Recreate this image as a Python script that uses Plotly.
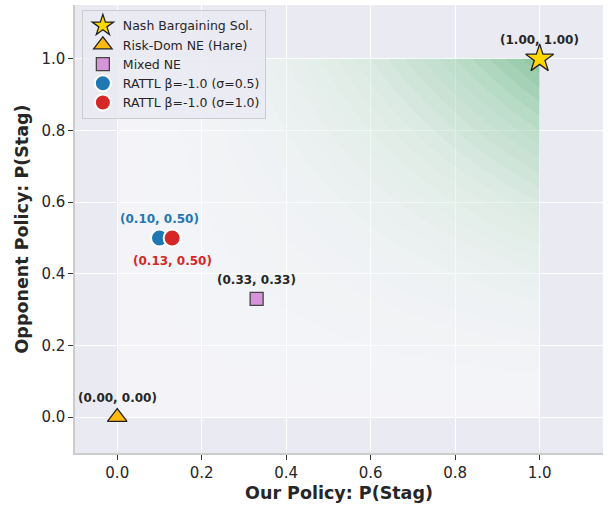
import numpy as np
import plotly.graph_objects as go

# Strategy profiles (our P(Stag), opponent P(Stag))
names = ["Nash Bargaining Sol.", "Risk-Dom NE (Hare)", "Mixed NE",
         "RATTL β=-1.0 (σ=0.5)", "RATTL β=-1.0 (σ=1.0)"]
our_p = [1.00, 0.00, 0.33, 0.10, 0.13]
opp_p = [1.00, 0.00, 0.33, 0.50, 0.50]
symbols = ["star", "triangle-up", "square", "circle", "circle"]
sizes = [21, 17, 13, 17, 17]
fills = ["#FFD700", "#FFB90F", "#D894DA", "#1F77B4", "#D62728"]
edges = ["#222222", "#222222", "#444444", "white", "white"]
label_colors = ["#262626", "#262626", "#262626", "#1F77B4", "#D62728"]
label_shift = [19, 19, 19, 19, -23]

# Joint-cooperation surface over the unit square
grid = np.linspace(0, 1, 101)
gx, gy = np.meshgrid(grid, grid)
joint = gx * gy

fig = go.Figure()
fig.add_trace(go.Contour(
    x=grid, y=grid, z=joint,
    contours=dict(start=0, end=1, size=0.04, coloring="fill"),
    line=dict(width=0),
    opacity=0.5,
    colorscale=[
        [0.0, "#FFFFFF"],
        [0.3, "#F2F9F4"],
        [0.55, "#D3ECD9"],
        [0.8, "#8ACD9C"],
        [1.0, "#2A9C4C"],
    ],
    showscale=False, hoverinfo="skip", showlegend=False,
))

for i, n in enumerate(names):
    fig.add_trace(go.Scatter(
        x=[our_p[i]], y=[opp_p[i]], mode="markers", name=n,
        marker=dict(symbol=symbols[i], size=sizes[i], color=fills[i],
                    line=dict(color=edges[i], width=1.3 if i < 3 else 2)),
    ))
    fig.add_annotation(
        x=our_p[i], y=opp_p[i], text=f"<b>({our_p[i]:.2f}, {opp_p[i]:.2f})</b>",
        showarrow=False, yshift=label_shift[i],
        font=dict(size=12, color=label_colors[i], family="DejaVu Sans"),
    )

axis_common = dict(
    range=[-0.1, 1.15], tickvals=[0, 0.2, 0.4, 0.6, 0.8, 1.0],
    ticktext=["0.0", "0.2", "0.4", "0.6", "0.8", "1.0"],
    showgrid=True, gridcolor="white", gridwidth=1.2, zeroline=False,
    showline=True, linecolor="#CCCCCC", linewidth=1.5,
    ticks="outside", ticklen=5, tickwidth=1.3, tickcolor="#333333",
    tickfont=dict(size=15, color="#262626", family="DejaVu Sans"),
)
fig.update_xaxes(**axis_common, title=dict(
    text="<b>Our Policy: P(Stag)</b>", standoff=6,
    font=dict(size=17.5, color="#262626", family="DejaVu Sans")))
fig.update_yaxes(**axis_common, title=dict(
    text="<b>Opponent Policy: P(Stag)</b>", standoff=8,
    font=dict(size=17.5, color="#262626", family="DejaVu Sans")))

fig.update_layout(
    width=608, height=508,
    margin=dict(l=75, r=5, t=5, b=55),
    plot_bgcolor="#EAEAF2", paper_bgcolor="white",
    font=dict(family="DejaVu Sans", color="#262626"),
    legend=dict(
        x=0.013, y=0.989, xanchor="left", yanchor="top",
        bgcolor="rgba(234,234,242,0.85)", bordercolor="#CCCCCC", borderwidth=1,
        font=dict(size=12.5, color="#262626", family="DejaVu Sans"),
        itemsizing="trace", tracegroupgap=0,
    ),
)

fig.write_html("out.html")
